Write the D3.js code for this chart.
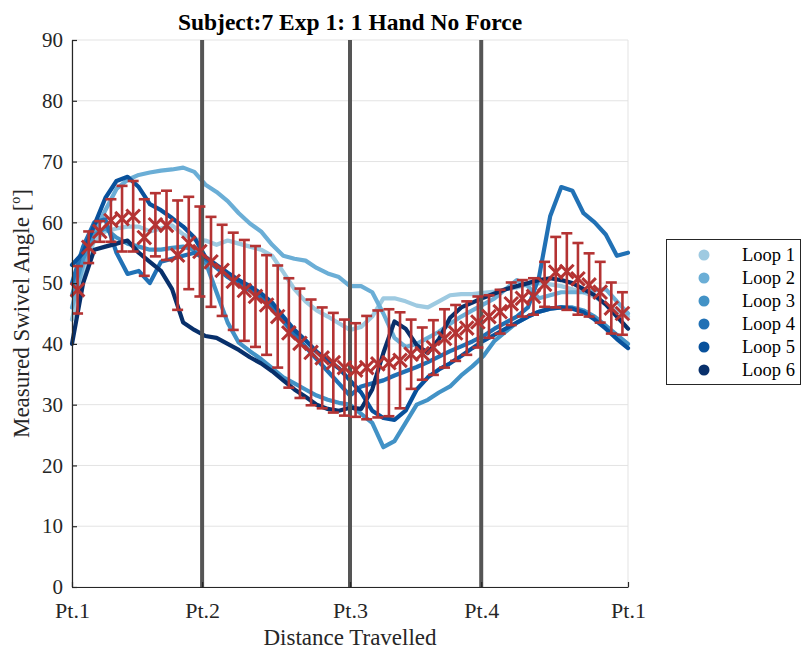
<!DOCTYPE html>
<html>
<head>
<meta charset="utf-8">
<script src="https://cdn.jsdelivr.net/npm/d3@7"></script>
<style>
  html, body { margin: 0; padding: 0; background: #ffffff; }
  svg { display: block; font-family: "Liberation Serif", "Times New Roman", serif; }
</style>
</head>
<body>
<svg id="chart" width="802" height="651"></svg>
<script>
// Path progress (percent of the loop) at which every loop trace is sampled
const progress = d3.range(0, 101, 2);

// Swivel angle (degrees) recorded on each loop
const loop1 = [44, 52, 57, 58.5, 59, 59.3, 59.3, 58.5, 59, 59.5, 58, 57.2, 57, 56.3, 57, 56.5, 56, 55.5, 54.5, 51.8,
  49, 47, 45.5, 44.5, 43.4, 42.3, 42.8, 44.5, 47.5, 47.5, 47, 46.3, 46, 47, 48, 48.2, 48.2, 48.4, 48.6, 49,
  49.3, 49.8, 50, 49.8, 49.5, 49, 48.5, 47.8, 46.5, 45.5, 44.5];
const loop2 = [46, 53, 58, 62, 65.5, 67, 67.8, 68.2, 68.5, 68.7, 69, 68.3, 66.2, 65, 63.5, 61.5, 59.8, 58.5, 56.3, 54.5,
  54, 53.7, 52.5, 51.6, 51, 49.5, 49.5, 48.5, 45, 41, 39.5, 40, 41, 42, 43.3, 44.5, 45.5, 46.5, 47.5, 49,
  50.5, 49.5, 47.5, 48, 48.5, 48.5, 48.5, 48.8, 49, 47, 45];
const loop3 = [48, 54, 58, 59, 57.5, 56.5, 56, 55.5, 55.5, 55.8, 56, 55.5, 53.5, 48.5, 43.5, 40.2, 38.8, 37.5, 36, 34.5,
  33.5, 32.5, 31.5, 30.8, 30.3, 30, 28.5, 27, 23, 24, 27, 30, 30.8, 32, 33, 34.8, 36.3, 38, 40.5, 42,
  43.5, 44.5, 45.3, 45.8, 46, 46, 45.5, 44.5, 43, 41.5, 40];
const loop4 = [50, 56, 60, 60.5, 55, 51.5, 52, 50, 53.5, 54, 54.5, 55, 54, 52.5, 51, 49.8, 48.8, 47.5, 46, 43.8,
  41.5, 39.5, 37.5, 35.5, 33.5, 31.5, 33, 33.5, 34, 34.8, 35.5, 36.2, 37, 37.9, 38.8, 39.6, 40.4, 41.3, 42.5, 43.5,
  44.5, 46, 51, 61, 65.8, 65.2, 61.5, 60, 58, 54.5, 55];
const loop5 = [53, 55, 59.5, 64, 66.8, 67.5, 65.8, 63, 62, 60.7, 59.3, 57.5, 54.3, 53, 51.7, 50.5, 49.5, 48.3, 46.8, 44.5,
  42.3, 40.6, 38.7, 37.3, 36, 34, 32, 29, 27.8, 27.5, 29, 32.5, 34.5, 35.8, 36.8, 38, 39.3, 40.5, 41.5, 42.5,
  43.5, 44.5, 45.3, 45.8, 46, 45.8, 45.2, 44, 42.5, 40.8, 39.3];
const loop6 = [40, 50, 55.5, 56, 56.5, 57, 55, 53.5, 52, 49, 43.5, 42.3, 41.3, 41, 40, 39, 37.8, 36.8, 35.5, 34,
  32.5, 31.3, 30, 29.3, 29, 29.5, 29.3, 32.5, 38.5, 43.7, 42.5, 39.8, 38.5, 40.8, 44.3, 46, 46.8, 47.6, 48.3, 49,
  49.5, 50, 50.5, 50.8, 50.5, 50, 49, 48, 46.5, 44.5, 42.5];

const loopNames = ["Loop 1", "Loop 2", "Loop 3", "Loop 4", "Loop 5", "Loop 6"];
const loopColors = ["#9ecae1", "#6baed6", "#4292c6", "#2171b5", "#08519c", "#08306b"];
const loops = [loop1, loop2, loop3, loop4, loop5, loop6];

// Mean across loops with its spread, at evenly spaced stations
const meanProgress = d3.range(1, 100, 2);
const meanAngle = [48.9, 55.9, 58.5, 60.3, 60.6, 61.0, 57.5, 59.6, 59.5, 54.6, 56.6, 55.2,
  53.5, 52.1, 50.3, 48.8, 47.8, 46.4, 44.5, 41.8, 40.1, 38.6, 37.7, 36.9, 36.1, 35.7,
  36.1, 36.7, 36.9, 37.3, 38.3, 38.4, 39.4, 40.9, 41.8, 42.6, 43.6,
  44.5, 45.3, 46.6, 47.5, 47.8, 49.8, 51.8, 51.9, 50.7, 49.7, 48.5, 45.9, 45.0];
const meanSpread = [3.9, 2.6, 1.7, 3.5, 5.4, 5.8, 6.3, 5.2, 5.7, 9.0, 7.6, 7.4,
  7.4, 7.5, 8.0, 8.3, 8.3, 8.2, 8.4, 9.0, 9.0, 8.7, 8.3, 8.2, 7.9, 7.7,
  8.5, 8.8, 8.8, 7.9, 5.7, 4.3, 4.5, 4.8, 4.6, 4.4, 4.2,
  3.5, 3.6, 3.5, 3.0, 3.0, 3.7, 5.8, 6.3, 5.9, 5.2, 5.0, 4.2, 3.5];

// Checkpoints along the path
const checkpointPos = [0, 23.4, 50, 73.6, 100];
const checkpointLabels = ["Pt.1", "Pt.2", "Pt.3", "Pt.4", "Pt.1"];
const angleTicks = d3.range(0, 91, 10);

const svg = d3.select("#chart");
const plotL = 72, plotR = 628, plotT = 40, plotB = 587;
const x = d3.scaleLinear().domain([0, 100]).range([plotL, plotR]);
const y = d3.scaleLinear().domain([0, 90]).range([plotB, plotT]);

// Grid
const grid = svg.append("g");
grid.selectAll("line.h").data(angleTicks).join("line")
  .attr("x1", plotL).attr("x2", plotR)
  .attr("y1", d => y(d)).attr("y2", d => y(d))
  .attr("stroke", "#e3e3e3").attr("stroke-width", 1);
grid.selectAll("line.v").data(checkpointPos).join("line")
  .attr("x1", d => x(d)).attr("x2", d => x(d))
  .attr("y1", plotT).attr("y2", plotB)
  .attr("stroke", "#e3e3e3").attr("stroke-width", 1);

// Loop traces
const line = d3.line().x((d, i) => x(progress[i])).y(d => y(d));
svg.append("g").selectAll("path").data(loops).join("path")
  .attr("d", line)
  .attr("fill", "none")
  .attr("stroke", (d, i) => loopColors[i])
  .attr("stroke-width", 4.2)
  .attr("stroke-linejoin", "round")
  .attr("stroke-linecap", "round");

// Checkpoint markers
svg.append("g").selectAll("line").data(checkpointPos.slice(1, 4)).join("line")
  .attr("x1", d => x(d)).attr("x2", d => x(d))
  .attr("y1", plotT).attr("y2", plotB)
  .attr("stroke", "#555555").attr("stroke-width", 4);

// Mean with error bars
const errColor = "#b43333";
const eb = svg.append("g").attr("stroke", errColor).attr("stroke-width", 2.6).attr("fill", "none");
const pts = meanProgress.map((p, i) => ({ p, m: meanAngle[i], s: meanSpread[i] }));
const capW = 5.5;
eb.selectAll("line.bar").data(pts).join("line")
  .attr("x1", d => x(d.p)).attr("x2", d => x(d.p))
  .attr("y1", d => y(d.m + d.s)).attr("y2", d => y(d.m - d.s));
eb.selectAll("line.capTop").data(pts).join("line")
  .attr("x1", d => x(d.p) - capW).attr("x2", d => x(d.p) + capW)
  .attr("y1", d => y(d.m + d.s)).attr("y2", d => y(d.m + d.s));
eb.selectAll("line.capBot").data(pts).join("line")
  .attr("x1", d => x(d.p) - capW).attr("x2", d => x(d.p) + capW)
  .attr("y1", d => y(d.m - d.s)).attr("y2", d => y(d.m - d.s));
const mk = 6.8;
eb.selectAll("path.mark").data(pts).join("path")
  .attr("stroke-width", 3)
  .attr("d", d => {
    const cx = x(d.p), cy = y(d.m);
    return `M${cx - mk},${cy - mk}L${cx + mk},${cy + mk}M${cx - mk},${cy + mk}L${cx + mk},${cy - mk}`;
  });

// Axes
const axisColor = "#262626";
const yAxis = svg.append("g").attr("transform", `translate(${plotL},0)`)
  .call(d3.axisLeft(y).tickValues(angleTicks).tickSizeInner(-5).tickSizeOuter(0).tickPadding(9));
const xAxis = svg.append("g").attr("transform", `translate(0,${plotB})`)
  .call(d3.axisBottom(x).tickValues(checkpointPos).tickFormat((d, i) => checkpointLabels[i])
    .tickSizeInner(-5).tickSizeOuter(0).tickPadding(15));
yAxis.selectAll(".tick text").style("font-size", "21px");
xAxis.selectAll(".tick text").style("font-size", "22px");
[xAxis, yAxis].forEach(a => {
  a.select(".domain").attr("stroke", axisColor).attr("stroke-width", 1.2);
  a.selectAll(".tick line").attr("stroke", axisColor).attr("stroke-width", 1.2);
  a.selectAll(".tick text").attr("fill", axisColor).style("font-family", "Liberation Serif");
});

// Titles
svg.append("text")
  .attr("x", 350).attr("y", 30)
  .attr("text-anchor", "middle")
  .style("font-size", "23.5px").style("font-weight", "bold").attr("fill", "#000")
  .text("Subject:7 Exp 1: 1 Hand No Force");

svg.append("text")
  .attr("x", 350).attr("y", 645)
  .attr("text-anchor", "middle")
  .style("font-size", "23px").attr("fill", axisColor)
  .text("Distance Travelled");

const yl = svg.append("text")
  .attr("transform", `translate(29,${(plotT + plotB) / 2}) rotate(-90)`)
  .attr("text-anchor", "middle")
  .style("font-size", "23px").attr("fill", axisColor);
yl.append("tspan").text("Measured Swivel Angle [");
yl.append("tspan").text("o").style("font-size", "14px").attr("dy", -9);
yl.append("tspan").text("]").attr("dy", 9);

// Legend
const lg = svg.append("g");
lg.append("rect").attr("x", 666.5).attr("y", 239.5).attr("width", 134).attr("height", 145)
  .attr("fill", "#fff").attr("stroke", "#262626").attr("stroke-width", 1);
const items = lg.selectAll("g.item").data(loopNames).join("g")
  .attr("transform", (d, i) => `translate(0,${255 + i * 23})`);
items.append("circle").attr("cx", 704).attr("cy", 0).attr("r", 5.5)
  .attr("fill", (d, i) => loopColors[i]);
items.append("text").attr("x", 742).attr("y", 6)
  .style("font-size", "18.5px").attr("fill", "#000").text(d => d);
</script>
</body>
</html>
